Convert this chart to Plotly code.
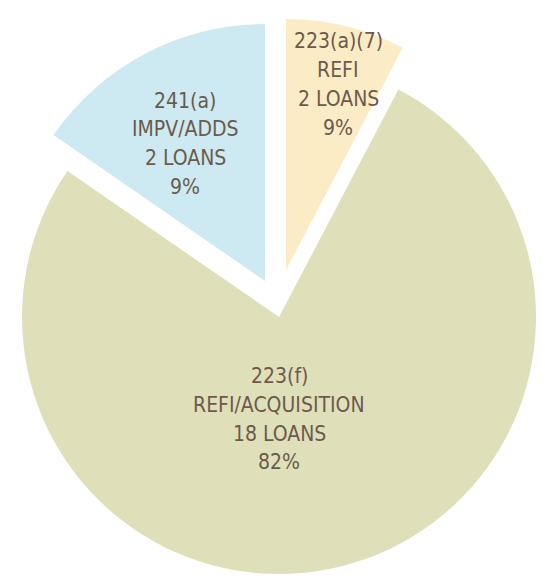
import plotly.graph_objects as go

# FHA programs in the portfolio
programs = ["223(a)(7)", "223(f)", "241(a)"]
purposes = ["REFI", "REFI/ACQUISITION", "IMPV/ADDS"]
loans = [2, 18, 2]
shares = [9, 82, 9]  # percent labels
# wedge sizes as they are drawn in the original graphic
wedges = [1, 10, 2]

colors = ["#fcecc5", "#dfe0ba", "#cdeaf2"]
OFF = 8  # the page body keeps an 8px margin round the figure
W, H = 545 - 2 * OFF, 582 - 2 * OFF

# every slice gets its own pie trace so it can be exploded freely
# (centre x, centre y from top, radius) in px of the reference picture
slice_geom = [(286, 270, 251), (279, 317, 257), (265, 281, 257)]
# label centre x and y of its first line, same px
label_pos = [(338, 41.5), (279, 376), (185, 100.5)]
LINE = 28.8

fig = go.Figure()
for i, (cx, cy, r) in enumerate(slice_geom):
    cx, cy = cx - OFF, cy - OFF
    cols = ["rgba(0,0,0,0)"] * len(wedges)
    cols[i] = colors[i]
    fig.add_trace(go.Pie(
        values=wedges,
        labels=programs,
        sort=False,
        direction="clockwise",
        rotation=0,
        marker=dict(colors=cols, line=dict(width=0)),
        textinfo="none",
        hoverinfo="skip",
        showlegend=False,
        domain=dict(
            x=[max(0, (cx - r) / W), min(1, (cx + r) / W)],
            y=[max(0, (H - cy - r) / H), min(1, (H - cy + r) / H)],
        ),
    ))

for i, (lx, ly) in enumerate(label_pos):
    lines = [programs[i], purposes[i], f"{loans[i]} LOANS", f"{shares[i]}%"]
    for k, txt in enumerate(lines):
        fig.add_annotation(
            text=txt,
            x=(lx - OFF) / W, y=1 - (ly + k * LINE - OFF) / H,
            xref="paper", yref="paper",
            xanchor="center", yanchor="middle", showarrow=False,
            font=dict(size=21, color="#6b5a4c"),
        )

fig.update_layout(
    width=W, height=H,
    margin=dict(l=0, r=0, t=0, b=0),
    paper_bgcolor="white",
    plot_bgcolor="white",
    font_family="DejaVu Sans Condensed, Roboto, sans-serif",
)

fig.write_html("out.html")
